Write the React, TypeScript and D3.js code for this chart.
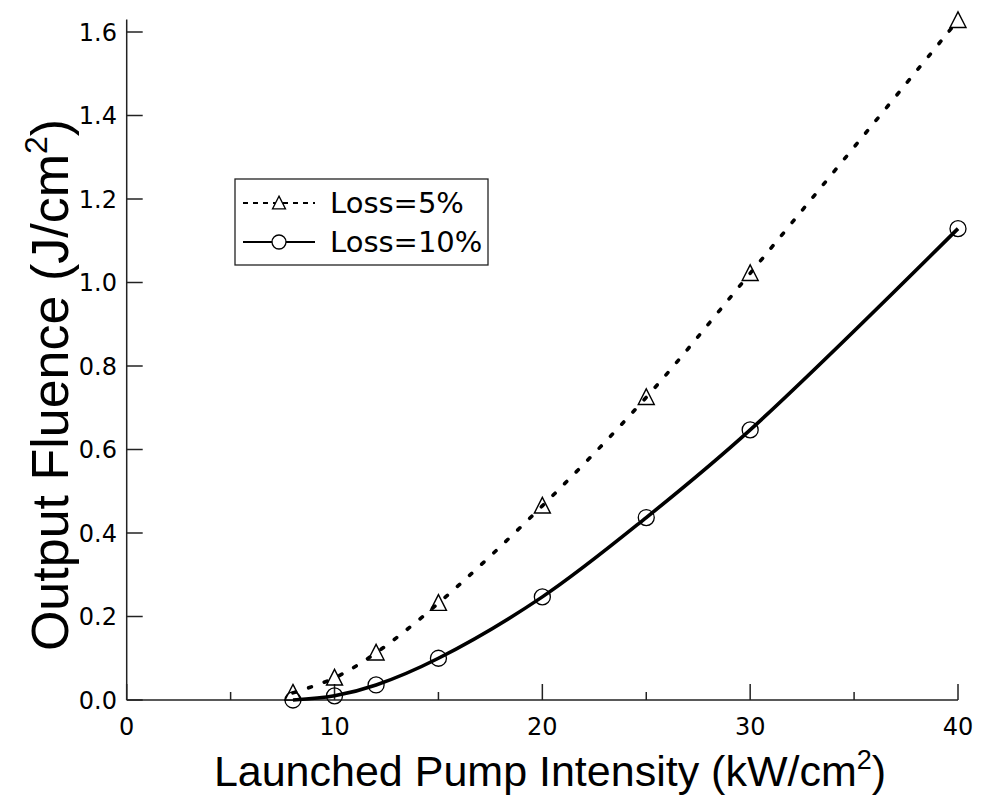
import React from "react";
import * as d3 from "d3";

const pumpIntensity = [8, 10, 12, 15, 20, 25, 30, 40];
const loss5 = [0.017, 0.053, 0.113, 0.232, 0.465, 0.725, 1.022, 1.628];
const loss10 = [0.0, 0.01, 0.036, 0.1, 0.247, 0.437, 0.647, 1.129];
const xMajorTicks = [0, 10, 20, 30, 40];
const xMinorTicks = [5, 15, 25, 35];
const yTicks = [0, 0.2, 0.4, 0.6, 0.8, 1.0, 1.2, 1.4, 1.6];
const legendLabels = ["Loss=5%", "Loss=10%"];

const W = 985;
const H = 797;
const FONT = "'DejaVu Sans', sans-serif";
const TITLE_FONT = "'Liberation Sans', Arial, sans-serif";

export default function App() {
  const x = d3.scaleLinear().domain([0, 40]).range([126.7, 958]);
  const y = d3.scaleLinear().domain([0, 1.63]).range([700, 700 - 1.63 * 417.5]);

  const pts5: [number, number][] = pumpIntensity.map((v, i) => [v, loss5[i]]);
  const pts10: [number, number][] = pumpIntensity.map((v, i) => [v, loss10[i]]);

  const line = d3
    .line<[number, number]>()
    .x((d) => x(d[0]))
    .y((d) => y(d[1]))
    .curve(d3.curveCatmullRom.alpha(0.5));

  const tri = (cx: number, cy: number, s: number) =>
    `M${cx},${cy - s * 0.53} L${cx + s * 0.5},${cy + s * 0.45} L${cx - s * 0.5},${cy + s * 0.45} Z`;

  const x0 = x(0);
  const y0 = y(0);

  return (
    <svg
      width={W}
      height={H}
      style={{ position: "absolute", left: 0, top: 0, background: "#fff" }}
    >
      <rect width={W} height={H} fill="#fff" />
      {/* axes */}
      <line x1={x0} x2={x0} y1={y0} y2={y(1.63)} stroke="#222" strokeWidth={1.5} />
      <line x1={x0} x2={x(40)} y1={y0} y2={y0} stroke="#222" strokeWidth={1.5} />
      {xMajorTicks.map((t) => (
        <g key={"xm" + t}>
          <line x1={x(t)} x2={x(t)} y1={y0} y2={y0 - 16} stroke="#222" strokeWidth={1.5} />
          <text x={x(t)} y={735} textAnchor="middle" fontFamily={FONT} fontSize={24} fill="#000">
            {t}
          </text>
        </g>
      ))}
      {xMinorTicks.map((t) => (
        <line key={"xn" + t} x1={x(t)} x2={x(t)} y1={y0} y2={y0 - 8} stroke="#222" strokeWidth={1.5} />
      ))}
      {yTicks.map((t) => (
        <g key={"y" + t}>
          <line x1={x0} x2={x0 + 16} y1={y(t)} y2={y(t)} stroke="#222" strokeWidth={1.5} />
          <text
            x={117}
            y={y(t)}
            dy="0.36em"
            textAnchor="end"
            fontFamily={FONT}
            fontSize={24}
            fill="#000"
          >
            {t.toFixed(1)}
          </text>
        </g>
      ))}

      {/* markers */}
      {pts5.map((d, i) => (
        <path key={"t" + i} d={tri(x(d[0]), y(d[1]), 16)} fill="none" stroke="#000" strokeWidth={1.4} />
      ))}
      {pts10.map((d, i) => (
        <circle key={"c" + i} cx={x(d[0])} cy={y(d[1])} r={8} fill="none" stroke="#000" strokeWidth={1.3} />
      ))}

      {/* lines */}
      <path
        d={line(pts5) || ""}
        fill="none"
        stroke="#000"
        strokeWidth={3.6}
        strokeDasharray="3 13.5"
        strokeLinecap="round"
      />
      <path d={line(pts10) || ""} fill="none" stroke="#000" strokeWidth={3.6} />

      {/* legend */}
      <rect x={235} y={179} width={253} height={86} fill="#fff" stroke="#222" strokeWidth={1.3} />
      <line x1={243} x2={315} y1={203} y2={203} stroke="#000" strokeWidth={2} strokeDasharray="5 5" />
      <path d={tri(279, 203, 13)} fill="#fff" stroke="#000" strokeWidth={1.3} />
      <line x1={243} x2={315} y1={242} y2={242} stroke="#000" strokeWidth={2.2} />
      <circle cx={279} cy={242} r={7} fill="#fff" stroke="#000" strokeWidth={1.3} />
      <text x={330} y={213} fontFamily={FONT} fontSize={29} fill="#000">
        {legendLabels[0]}
      </text>
      <text x={330} y={252} fontFamily={FONT} fontSize={29} fill="#000">
        {legendLabels[1]}
      </text>

      {/* axis titles */}
      <text x={550} y={786} textAnchor="middle" fontFamily={TITLE_FONT} fontSize={43} fill="#000">
        Launched Pump Intensity (kW/cm
        <tspan fontSize={27} dy={-17}>2</tspan>
        <tspan dy={17}>)</tspan>
      </text>
      <text
        transform={`translate(68,385) rotate(-90)`}
        textAnchor="middle"
        fontFamily={TITLE_FONT}
        fontSize={52}
        fill="#000"
      >
        Output Fluence (J/cm
        <tspan fontSize={32} dy={-21}>2</tspan>
        <tspan dy={21}>)</tspan>
      </text>
    </svg>
  );
}
